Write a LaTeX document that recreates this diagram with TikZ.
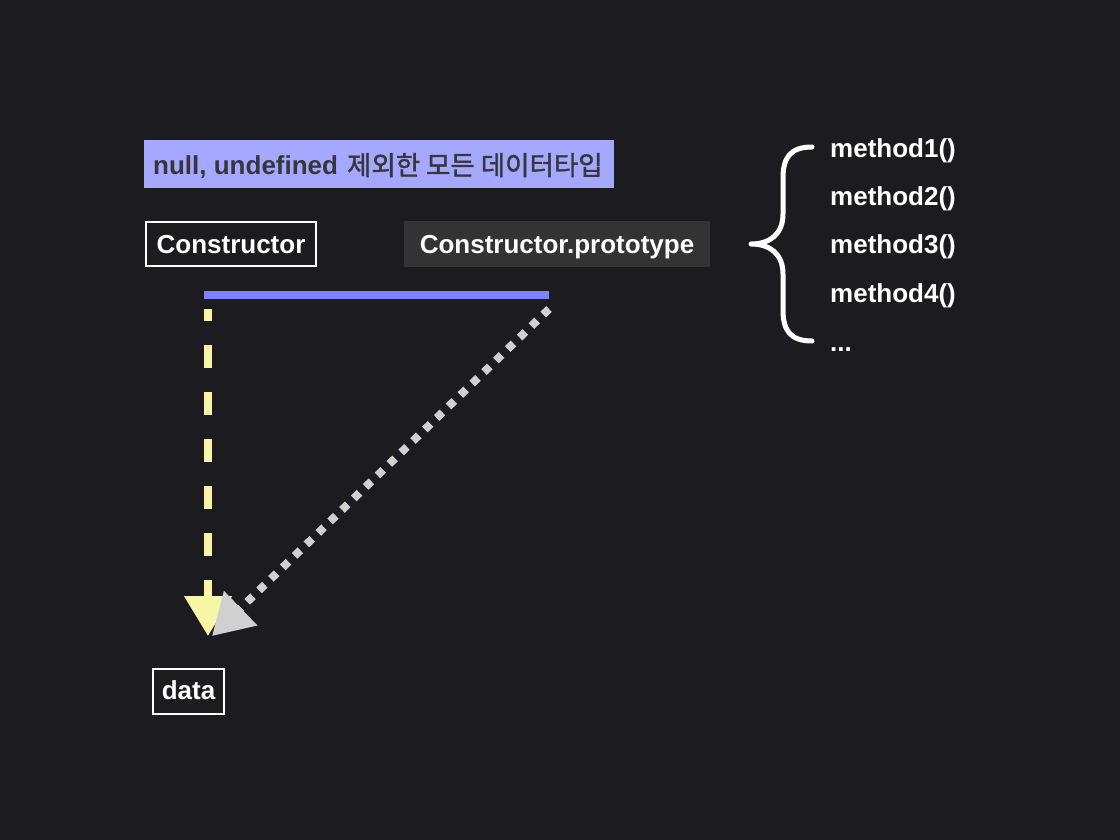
\documentclass[tikz,border=0pt]{standalone}
\usepackage{fontspec}
\setmainfont{Liberation Sans}
\newfontfamily\kr[AutoFakeBold=1.5]{Noto Sans CJK KR}
\usetikzlibrary{arrows.meta}
\definecolor{bg}{HTML}{1C1B20}
\definecolor{lav}{HTML}{A5A8FF}
\definecolor{bluel}{HTML}{7E81FF}
\definecolor{yel}{HTML}{F7F5A6}
\definecolor{gry}{HTML}{D0D0D0}
\definecolor{dbox}{HTML}{333333}
\definecolor{dtext}{HTML}{36363C}
\tikzset{
  lbl/.style={font=\fontsize{26}{30}\selectfont\bfseries, text=white, inner sep=0pt, anchor=base},
  meth/.style={font=\fontsize{26}{30}\selectfont\bfseries, text=white, anchor=base west, inner sep=0pt},
}
\begin{document}
\begin{tikzpicture}[x=1pt,y=-1pt]
\fill[bg] (0,0) rectangle (1120,840);
\useasboundingbox (0,0) rectangle (1120,840);
% top label
\fill[lav] (144,140) rectangle (614,188);
\node[font=\fontsize{26}{30}\selectfont\bfseries, text=dtext, inner sep=0pt, anchor=base west] (all) at (153,175) {null, undefined\hspace{9pt}{\kr\fontsize{26.5}{30}\selectfont\bfseries 제외한 모든 데이터타입}};
% constructor
\draw[white, line width=2pt] (146,222) rectangle (316,266);
\node[lbl] (ctor) at (231,254) {Constructor};
\fill[dbox] (404,221) rectangle (710,267);
\node[lbl] (proto) at (557,254) {Constructor.prototype};
% data
\draw[white, line width=2pt] (153,669) rectangle (224,714);
\node[lbl] (data) at (188.5,699) {data};
% connectors
\coordinate (bl) at (204,295);
\coordinate (br) at (549,295);
\draw[bluel, line width=8pt] (bl) -- (br);
\coordinate (ys) at (208,309);
\coordinate (ye) at (208,636);
\draw[yel, line width=8pt, dash pattern=on 23pt off 24pt, dash phase=11pt, -{Triangle[length=40pt,width=46pt]}] (ys) -- (ye);
\coordinate (gs) at (549,309);
\coordinate (ge) at (212,636);
\draw[gry, line width=8pt, dash pattern=on 8pt off 8.5pt, -{Triangle[length=40pt,width=46pt]}] (gs) -- (ge);
% brace
\draw[white, line width=5pt, line cap=round, line join=round]
  (812,147) .. controls (790,147) and (783,158) .. (783,178) -- (783,214)
  .. controls (783,234) and (770,244) .. (751,244)
  .. controls (770,244) and (783,254) .. (783,274) -- (783,310)
  .. controls (783,330) and (790,341) .. (812,341);
% methods
\node[meth] (m1) at (830,158) {method1()};
\node[meth] (m2) at (830,206) {method2()};
\node[meth] (m3) at (830,254) {method3()};
\node[meth] (m4) at (830,302) {method4()};
\node[meth] (m5) at (830,351) {...};
\end{tikzpicture}
\end{document}
